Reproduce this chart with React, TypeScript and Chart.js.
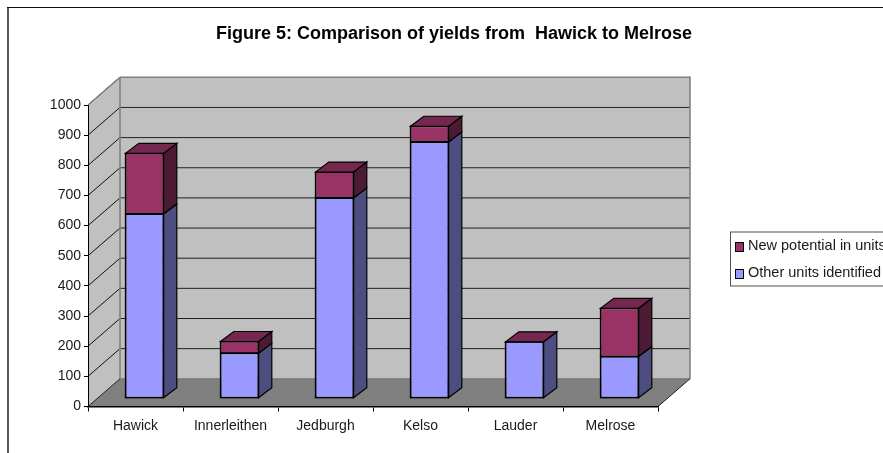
import React, { useEffect, useRef } from "react";
import { Chart, registerables } from "chart.js";

Chart.register(...registerables);

const categories = ["Hawick", "Innerleithen", "Jedburgh", "Kelso", "Lauder", "Melrose"];
const otherUnits = [611, 149, 664, 850, 187, 138];
const newPotential = [201, 39, 86, 52, 0, 160];
const titleText = "Figure 5: Comparison of yields from  Hawick to Melrose";
const FONT = "'Liberation Sans', Arial, sans-serif";

const DEPTH_X = 32;
const DEPTH_Y = 27.7;
const BAR_SHIFT_X = 9;
const BAR_SHIFT_Y = 8.3;
const BAR_DEPTH_X = 13.3;
const BAR_DEPTH_Y = 10;

const sideColors = ["#4D4D80", "#4D1A33"];
const topColors = ["#7A7ACC", "#75284F"];

function poly(ctx: CanvasRenderingContext2D, pts: number[][], fill?: string, stroke?: string, lw = 1) {
  ctx.beginPath();
  pts.forEach((p, i) => (i ? ctx.lineTo(p[0], p[1]) : ctx.moveTo(p[0], p[1])));
  ctx.closePath();
  if (fill) {
    ctx.fillStyle = fill;
    ctx.fill();
  }
  if (stroke) {
    ctx.strokeStyle = stroke;
    ctx.lineWidth = lw;
    ctx.stroke();
  }
}

function line(ctx: CanvasRenderingContext2D, x1: number, y1: number, x2: number, y2: number, color: string, lw = 1) {
  ctx.beginPath();
  ctx.moveTo(x1, y1);
  ctx.lineTo(x2, y2);
  ctx.strokeStyle = color;
  ctx.lineWidth = lw;
  ctx.stroke();
}

const scene3d = {
  id: "scene3d",
  afterLayout(chart: any) {
    chart.titleBlock.left = 216;
    chart.titleBlock.right = 692;
  },
  beforeDraw(chart: any) {
    const { ctx, chartArea, scales } = chart;
    const { left, right, bottom, top } = chartArea;
    ctx.save();
    ctx.fillStyle = "#FFFFFF";
    ctx.fillRect(0, 0, chart.width, chart.height);

    // outer frame (right side and bottom fall outside the picture)
    line(ctx, 8, 7, 8, 453, "#303030", 1.6);
    line(ctx, 7, 7.5, 883, 7.5, "#101010", 1);

    const bx = left + DEPTH_X;
    const by = bottom - DEPTH_Y;
    const tx = right + DEPTH_X;
    const ty = top - DEPTH_Y;
    // walls and floor
    poly(ctx, [[bx, ty], [tx, ty], [tx, by], [bx, by]], "#C0C0C0");
    poly(ctx, [[left, bottom], [bx, by], [bx, ty], [left, top]], "#C0C0C0");
    poly(ctx, [[left, bottom], [right, bottom], [tx, by], [bx, by]], "#808080");

    scales.y.ticks.forEach((t: any) => {
      if (t.value === 0) return;
      const y = scales.y.getPixelForValue(t.value);
      line(ctx, left, y, bx, y - DEPTH_Y, "#101010", 1);
      if (t.value < 1000) line(ctx, bx, y - DEPTH_Y, tx, y - DEPTH_Y, "#202020", 1);
    });
    line(ctx, bx, ty, tx, ty, "#808080", 1.6);
    line(ctx, tx, ty - 0.8, tx, by, "#808080", 1.6);
    line(ctx, bx, ty, bx, by, "#808080", 1.6);
    line(ctx, left, top, bx, ty, "#808080", 1.2);
    line(ctx, bx, by, tx, by, "#707070", 1);
    line(ctx, left, bottom, bx, by, "#202020", 1);
    line(ctx, right, bottom, tx, by, "#202020", 1);
    ctx.restore();
  },
  beforeDatasetsDraw(chart: any) {
    chart.ctx.save();
    chart.ctx.translate(BAR_SHIFT_X, -BAR_SHIFT_Y);
  },
  afterDatasetsDraw(chart: any) {
    const { ctx, data } = chart;
    const last = data.datasets.length - 1;
    data.datasets.forEach((_: any, di: number) => {
      chart.getDatasetMeta(di).data.forEach((bar: any) => {
        const r = bar.x + bar.width / 2;
        const l = bar.x - bar.width / 2;
        const hi = Math.min(bar.y, bar.base);
        const lo = Math.max(bar.y, bar.base);
        if (lo > hi) {
          poly(
            ctx,
            [[r, lo], [r + BAR_DEPTH_X, lo - BAR_DEPTH_Y], [r + BAR_DEPTH_X, hi - BAR_DEPTH_Y], [r, hi]],
            sideColors[di],
            "#000000",
            1.2
          );
          ctx.strokeStyle = "#000000";
          ctx.lineWidth = 1.3;
          ctx.strokeRect(l, hi, r - l, lo - hi);
        }
        if (di === last) {
          poly(
            ctx,
            [[l, hi], [r, hi], [r + BAR_DEPTH_X, hi - BAR_DEPTH_Y], [l + BAR_DEPTH_X, hi - BAR_DEPTH_Y]],
            topColors[di],
            "#000000",
            1.2
          );
        }
      });
    });
    ctx.restore();
  },
  afterDraw(chart: any) {
    const { ctx, data } = chart;
    const items = [data.datasets[1], data.datasets[0]];
    ctx.save();
    ctx.fillStyle = "#FFFFFF";
    ctx.fillRect(730.5, 232, 170, 54);
    ctx.strokeStyle = "#505050";
    ctx.lineWidth = 1;
    ctx.strokeRect(730.5, 232, 170, 54);
    ctx.font = `14.5px ${FONT}`;
    ctx.textBaseline = "middle";
    items.forEach((d: any, i: number) => {
      const y = 242.5 + i * 27;
      ctx.fillStyle = d.backgroundColor;
      ctx.fillRect(735.5, y, 8, 9);
      ctx.strokeStyle = "#000000";
      ctx.strokeRect(735.5, y, 8, 9);
      ctx.fillStyle = "#1A1A1A";
      ctx.fillText(d.label, 748, y + 3);
    });
    ctx.restore();
  },
};

export default function App() {
  const ref = useRef<HTMLCanvasElement>(null);
  useEffect(() => {
    const chart = new Chart(ref.current as HTMLCanvasElement, {
      type: "bar",
      data: {
        labels: categories,
        datasets: [
          {
            label: "Other units identified",
            data: otherUnits,
            backgroundColor: "#9999FF",
            borderColor: "#000000",
            borderWidth: 1,
            borderSkipped: false,
            clip: false,
          },
          {
            label: "New potential in units",
            data: newPotential,
            backgroundColor: "#993366",
            borderColor: "#000000",
            borderWidth: 1,
            borderSkipped: false,
            clip: false,
          },
        ],
      } as any,
      options: {
        responsive: false,
        animation: false,
        layout: { padding: { left: 0, right: 225, top: 0, bottom: 0 } },
        datasets: { bar: { categoryPercentage: 1, barPercentage: 0.4 } },
        plugins: {
          legend: { display: false },
          tooltip: { enabled: false },
          title: {
            display: true,
            text: titleText,
            color: "#000000",
            font: { family: FONT, size: 18, weight: "bold", lineHeight: 1.2 },
            padding: { top: 23, bottom: 60.4 },
          },
        },
        scales: {
          x: {
            stacked: true,
            afterFit: (s: any) => {
              s.height = 46.5;
            },
            grid: { drawOnChartArea: false, color: "#000000", tickLength: 5, lineWidth: 1 },
            border: { display: true, color: "#000000", width: 1.5 },
            ticks: { color: "#1A1A1A", font: { family: FONT, size: 14 }, padding: 6, maxRotation: 0 },
          },
          y: {
            stacked: true,
            min: 0,
            max: 1000,
            afterFit: (s: any) => {
              s.width = 88;
            },
            grid: { drawOnChartArea: false, color: "#000000", tickLength: 4, lineWidth: 1 },
            border: { display: true, color: "#000000", width: 1 },
            ticks: {
              stepSize: 100,
              color: "#1A1A1A",
              font: { family: FONT, size: 14 },
              padding: 3,
              callback: (v: any) => String(v),
            },
          },
        },
      } as any,
      plugins: [scene3d],
    });
    return () => chart.destroy();
  }, []);
  return (
    <canvas
      ref={ref}
      width={883}
      height={453}
      style={{ position: "fixed", left: 0, top: 0, display: "block" }}
    />
  );
}
